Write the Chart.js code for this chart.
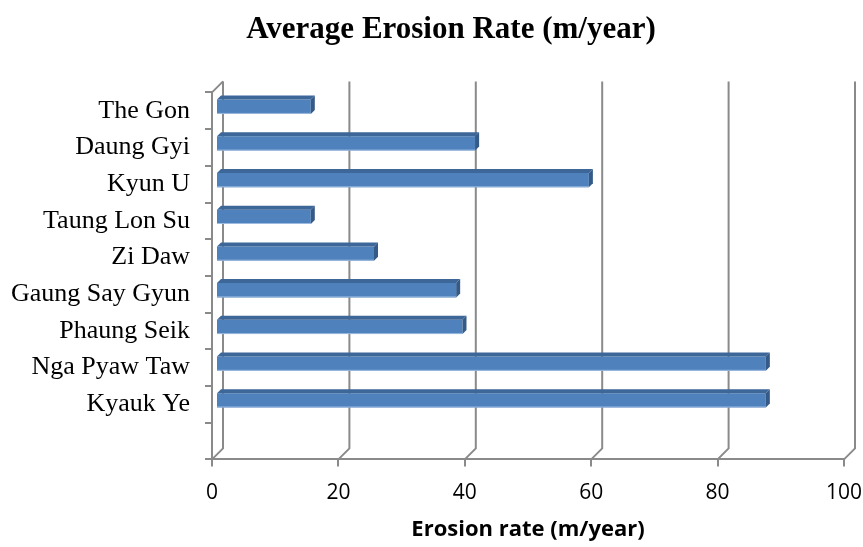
<!DOCTYPE html>
<html lang="en">
<head>
    <meta charset="UTF-8">
    <title>Average Erosion Rate</title>
    <script src="https://cdn.jsdelivr.net/npm/chart.js"></script>
    <style>
        html, body {
            margin: 0;
            padding: 0;
            background: #ffffff;
        }
        #wrap {
            width: 863px;
            height: 547px;
        }
    </style>
</head>
<body>
    <div id="wrap">
        <canvas id="erosionChart" width="863" height="547"></canvas>
    </div>

    <script>
        // villages, top to bottom; the last slot is left empty
        const villages = ['The Gon', 'Daung Gyi', 'Kyun U', 'Taung Lon Su', 'Zi Daw',
                          'Gaung Say Gyun', 'Phaung Seik', 'Nga Pyaw Taw', 'Kyauk Ye', ''];
        const erosionRates = [15, 41, 59, 15, 25, 38, 39, 87, 87, null];
        const rateTicks = [0, 20, 40, 60, 80, 100];
        const chartTitle = 'Average Erosion Rate (m/year)';

        const LINE = '#8a8a8a';
        const WALL = 11;      // depth of the back wall
        const BAR_OFF = 4;    // bars sit slightly behind the front plane
        const BAR_DEPTH = 4;

        // title sits over the plot, not over the whole canvas
        const titlePlugin = {
            id: 'plotTitle',
            afterDraw(chart) {
                const {ctx} = chart;
                ctx.save();
                ctx.fillStyle = '#000000';
                ctx.font = 'bold 31px "Liberation Serif", "Times New Roman", serif';
                ctx.textAlign = 'center';
                ctx.textBaseline = 'alphabetic';
                ctx.fillText(chartTitle, 451, 38);
                ctx.restore();
            }
        };

        // fake 3D: back wall, floor, bar tops and sides
        const depthPlugin = {
            id: 'depth',
            beforeDatasetsDraw(chart) {
                const {ctx, chartArea: a, scales: {x}} = chart;
                ctx.save();
                ctx.strokeStyle = LINE;
                ctx.lineWidth = 2;
                rateTicks.forEach(v => {
                    const px = x.getPixelForValue(v);
                    ctx.beginPath();
                    ctx.moveTo(px, a.bottom);
                    ctx.lineTo(px + WALL, a.bottom - WALL);
                    ctx.lineTo(px + WALL, a.top - WALL);
                    ctx.stroke();
                });
                // left wall top edge
                ctx.beginPath();
                ctx.moveTo(a.left, a.top);
                ctx.lineTo(a.left + WALL, a.top - WALL);
                ctx.stroke();
                ctx.restore();

                ctx.save();
                ctx.translate(BAR_OFF, -BAR_OFF);
            },
            afterDatasetsDraw(chart) {
                const {ctx} = chart;
                ctx.restore();
                const meta = chart.getDatasetMeta(0);
                ctx.save();
                meta.data.forEach((bar, i) => {
                    if (erosionRates[i] == null) return;
                    const {x: xEnd, y, base, height} = bar.getProps(['x', 'y', 'base', 'height']);
                    const x0 = base + BAR_OFF, x1 = xEnd + BAR_OFF;
                    const top = y - height / 2 - BAR_OFF, bot = y + height / 2 - BAR_OFF;
                    const d = BAR_DEPTH;
                    // top face
                    ctx.fillStyle = '#3d6699';
                    ctx.beginPath();
                    ctx.moveTo(x0, top);
                    ctx.lineTo(x1, top);
                    ctx.lineTo(x1 + d, top - d);
                    ctx.lineTo(x0 + d, top - d);
                    ctx.closePath();
                    ctx.fill();
                    // end face
                    ctx.fillStyle = '#355a87';
                    ctx.beginPath();
                    ctx.moveTo(x1, top);
                    ctx.lineTo(x1 + d, top - d);
                    ctx.lineTo(x1 + d, bot - d);
                    ctx.lineTo(x1, bot);
                    ctx.closePath();
                    ctx.fill();
                    // light lower edge of the front face
                    ctx.fillStyle = '#9dbbe0';
                    ctx.fillRect(x0, bot - 1, x1 - x0, 1);
                });
                ctx.restore();
            }
        };

        const ctx = document.getElementById('erosionChart').getContext('2d');
        const erosionChart = new Chart(ctx, {
            type: 'bar',
            data: {
                labels: villages,
                datasets: [{
                    label: 'Average erosion rate',
                    data: erosionRates,
                    backgroundColor: '#4f81bd',
                    borderWidth: 0,
                    barPercentage: 0.39,
                    categoryPercentage: 1
                }]
            },
            options: {
                indexAxis: 'y',
                responsive: false,
                animation: false,
                layout: {
                    padding: {left: 0, right: 19, top: 92.4, bottom: 4}
                },
                plugins: {
                    legend: {display: false},
                    tooltip: {enabled: false},
                    title: {display: false}
                },
                scales: {
                    x: {
                        min: 0,
                        max: 100,
                        afterBuildTicks: scale => {
                            scale.ticks = rateTicks.map(v => ({value: v}));
                        },
                        afterFit: scale => {
                            scale.height = 83.6;
                            // the "100" label may overhang into the right margin
                            scale.paddingLeft = 0;
                            scale.paddingRight = 0;
                        },
                        grid: {
                            drawOnChartArea: false,
                            color: LINE,
                            lineWidth: 2,
                            tickLength: 7
                        },
                        border: {color: LINE, width: 2},
                        ticks: {
                            color: '#000000',
                            padding: 14,
                            maxRotation: 0,
                            font: {family: '"Open Sans", sans-serif', size: 21}
                        },
                        title: {
                            display: true,
                            text: 'Erosion rate (m/year)',
                            color: '#000000',
                            padding: 0,
                            font: {family: '"Open Sans", sans-serif', size: 22, weight: 'bold'}
                        }
                    },
                    y: {
                        afterFit: scale => {
                            scale.width = 212;
                            scale.paddingTop = 0;
                            scale.paddingBottom = 0;
                        },
                        grid: {
                            drawOnChartArea: false,
                            color: LINE,
                            lineWidth: 2,
                            tickLength: 7
                        },
                        border: {color: LINE, width: 2},
                        ticks: {
                            color: '#000000',
                            padding: 15,
                            font: {family: '"Liberation Serif", "Times New Roman", serif', size: 26}
                        }
                    }
                }
            },
            plugins: [depthPlugin, titlePlugin]
        });
    </script>
</body>
</html>
